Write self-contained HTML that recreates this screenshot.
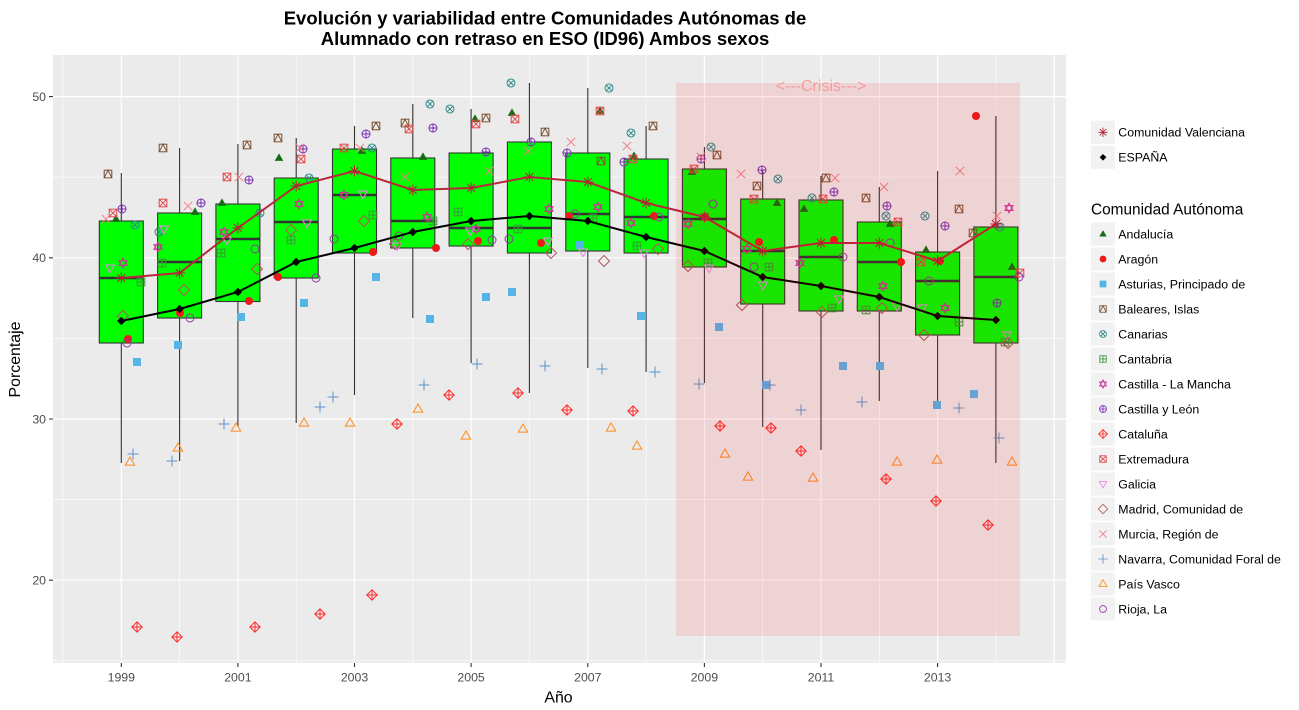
<!DOCTYPE html>
<html><head><meta charset="utf-8"><style>
html,body{margin:0;padding:0;background:#fff;}
svg{display:block;font-family:"Liberation Sans",Arial,sans-serif;}
</style></head><body>
<svg width="1299" height="710" viewBox="0 0 1299 710" xmlns="http://www.w3.org/2000/svg">
<defs>
<g id="A"><path d="M0,-4.6L4.3,2.9L-4.3,2.9Z" fill="#146C14"/></g>
<g id="R"><circle r="4" fill="#EE1A1A"/></g>
<g id="S"><rect x="-4" y="-4" width="8" height="8" fill="#56B4E9"/></g>
<g id="B" fill="none" stroke="#7A4E2E" stroke-width="1"><rect x="-3.8" y="-3.8" width="7.6" height="7.6"/><path d="M-3.8,3.8L0,-3.8L3.8,3.8"/></g>
<g id="K" fill="none" stroke="#2E8A8A" stroke-width="1"><circle r="4"/><path d="M-3.2,-3.2L3.2,3.2M-3.2,3.2L3.2,-3.2"/></g>
<g id="T" fill="none" stroke="#3C963C" stroke-width="1"><rect x="-3.8" y="-3.8" width="7.6" height="7.6"/><path d="M0,-3.8V3.8M-3.8,0H3.8"/></g>
<g id="M" fill="none" stroke="#CC3399" stroke-width="1"><path d="M0,-4.8L4.1,2.4L-4.1,2.4Z M0,4.8L4.1,-2.4L-4.1,-2.4Z"/></g>
<g id="L" fill="none" stroke="#7B2FB5" stroke-width="1"><circle r="4"/><path d="M0,-4V4M-4,0H4"/></g>
<g id="C" fill="none" stroke="#FF2A2A" stroke-width="1"><path d="M0,-5.2L5.2,0L0,5.2L-5.2,0Z M0,-5.2V5.2M-5.2,0H5.2"/></g>
<g id="E" fill="none" stroke="#E04848" stroke-width="1"><rect x="-3.8" y="-3.8" width="7.6" height="7.6"/><path d="M-3.8,-3.8L3.8,3.8M-3.8,3.8L3.8,-3.8"/></g>
<g id="G" fill="none" stroke="#EE82EE" stroke-width="1"><path d="M0,4.6L4.4,-3L-4.4,-3Z"/></g>
<g id="D" fill="none" stroke="#B05A5A" stroke-width="1"><path d="M0,-5.5L5.5,0L0,5.5L-5.5,0Z"/></g>
<g id="U" fill="none" stroke="#F47C86" stroke-width="1"><path d="M-4.2,-4.2L4.2,4.2M-4.2,4.2L4.2,-4.2"/></g>
<g id="N" fill="none" stroke="#5E92CC" stroke-width="1"><path d="M0,-5.5V5.5M-5.5,0H5.5"/></g>
<g id="P" fill="none" stroke="#FF8C1A" stroke-width="1"><path d="M0,-5L4.7,3.1L-4.7,3.1Z"/></g>
<g id="O" fill="none" stroke="#9535A5" stroke-width="1"><circle r="4"/></g>
<g id="V" fill="none" stroke="#B22234" stroke-width="1"><path d="M0,-5.5V5.5M-5.5,0H5.5M-3.9,-3.9L3.9,3.9M-3.9,3.9L3.9,-3.9"/></g>
<g id="X"><path d="M0,-4.2L4.2,0L0,4.2L-4.2,0Z" fill="#000"/></g>
</defs>

<rect x="0" y="0" width="1299" height="710" fill="#fff"/>
<!-- panel -->
<rect x="53" y="55" width="1013" height="608" fill="#EBEBEB"/>
<g stroke="#fff" stroke-width="0.6">
<line x1="53" x2="1066" y1="660.8" y2="660.8"/>
<line x1="53" x2="1066" y1="499.6" y2="499.6"/>
<line x1="53" x2="1066" y1="338.4" y2="338.4"/>
<line x1="53" x2="1066" y1="177.2" y2="177.2"/>
<line y1="55" y2="663" x1="63" x2="63"/>
<line y1="55" y2="663" x1="179.6" x2="179.6"/>
<line y1="55" y2="663" x1="296.2" x2="296.2"/>
<line y1="55" y2="663" x1="412.8" x2="412.8"/>
<line y1="55" y2="663" x1="529.4" x2="529.4"/>
<line y1="55" y2="663" x1="646.1" x2="646.1"/>
<line y1="55" y2="663" x1="762.7" x2="762.7"/>
<line y1="55" y2="663" x1="879.3" x2="879.3"/>
<line y1="55" y2="663" x1="995.9" x2="995.9"/>
</g>
<g stroke="#fff" stroke-width="1.2">
<line x1="53" x2="1066" y1="580.2" y2="580.2"/>
<line x1="53" x2="1066" y1="419" y2="419"/>
<line x1="53" x2="1066" y1="257.8" y2="257.8"/>
<line x1="53" x2="1066" y1="96.6" y2="96.6"/>
<line y1="55" y2="663" x1="121.3" x2="121.3"/>
<line y1="55" y2="663" x1="237.9" x2="237.9"/>
<line y1="55" y2="663" x1="354.5" x2="354.5"/>
<line y1="55" y2="663" x1="471.1" x2="471.1"/>
<line y1="55" y2="663" x1="587.8" x2="587.8"/>
<line y1="55" y2="663" x1="704.4" x2="704.4"/>
<line y1="55" y2="663" x1="821" x2="821"/>
<line y1="55" y2="663" x1="937.6" x2="937.6"/>
<line y1="55" y2="663" x1="1054.2" x2="1054.2"/>
</g>

<!-- whiskers -->
<g stroke="#333" stroke-width="1.1">
<path d="M121.3,173V221M121.3,343V463"/>
<path d="M179.6,148V213M179.6,318V461"/>
<path d="M237.9,144V204M237.9,301.5V427"/>
<path d="M296.2,138V178M296.2,278V423"/>
<path d="M354.5,126V149M354.5,253V395"/>
<path d="M412.8,104V158M412.8,248V318"/>
<path d="M471.1,109V153M471.1,246V363"/>
<path d="M529.4,83V142M529.4,253V393"/>
<path d="M587.8,88V153M587.8,251V368"/>
<path d="M646.1,126V159M646.1,253V372"/>
<path d="M704.4,147V169M704.4,267V383"/>
<path d="M762.7,170V199M762.7,304V427"/>
<path d="M821,176V200M821,311V450"/>
<path d="M879.3,187V222M879.3,311V401"/>
<path d="M937.6,171V252M937.6,335V402"/>
<path d="M995.9,116V227M995.9,343V463"/>
</g>
<!-- boxes -->
<g fill="#00FF00" stroke="#333" stroke-width="1.1">
<rect x="99.3" y="221" width="44" height="122"/>
<rect x="157.6" y="213" width="44" height="105"/>
<rect x="215.9" y="204" width="44" height="97.5"/>
<rect x="274.2" y="178" width="44" height="100"/>
<rect x="332.5" y="149" width="44" height="104"/>
<rect x="390.8" y="158" width="44" height="90"/>
<rect x="449.1" y="153" width="44" height="93"/>
<rect x="507.4" y="142" width="44" height="111"/>
<rect x="565.8" y="153" width="44" height="98"/>
<rect x="624.1" y="159" width="44" height="94"/>
<rect x="682.4" y="169" width="44" height="98"/>
<rect x="740.7" y="199" width="44" height="105"/>
<rect x="799" y="200" width="44" height="111"/>
<rect x="857.3" y="222" width="44" height="89"/>
<rect x="915.6" y="252" width="44" height="83"/>
<rect x="973.9" y="227" width="44" height="116"/>
</g>
<g stroke="#333" stroke-width="2.4">
<path d="M99.3,278h44M157.6,262h44M215.9,239h44M274.2,222h44M332.5,195h44M390.8,221h44M449.1,228h44M507.4,228h44M565.8,214h44M624.1,217h44M682.4,219h44M740.7,251h44M799,257h44M857.3,262h44M915.6,281h44M973.9,277h44"/>
</g>

<!-- points -->
<g>
<use href="#A" x="116" y="219"/><use href="#A" x="195" y="212"/><use href="#A" x="222" y="203"/><use href="#A" x="279" y="158"/><use href="#A" x="362" y="151"/><use href="#A" x="423" y="157"/><use href="#A" x="475" y="119"/><use href="#A" x="512" y="113"/><use href="#A" x="600" y="111"/><use href="#A" x="634" y="156"/><use href="#A" x="692" y="172"/><use href="#A" x="777" y="203"/><use href="#A" x="804" y="209"/><use href="#A" x="890" y="224"/><use href="#A" x="926" y="250"/><use href="#A" x="1012" y="267"/>
<use href="#R" x="128" y="339"/><use href="#R" x="180" y="313"/><use href="#R" x="249" y="301"/><use href="#R" x="278" y="277"/><use href="#R" x="373" y="252"/><use href="#R" x="436" y="248"/><use href="#R" x="478" y="241"/><use href="#R" x="541" y="243"/><use href="#R" x="569" y="216"/><use href="#R" x="654" y="216"/><use href="#R" x="705" y="217"/><use href="#R" x="759" y="242"/><use href="#R" x="834" y="240"/><use href="#R" x="901" y="262"/><use href="#R" x="940" y="261"/><use href="#R" x="976" y="116"/>
<use href="#S" x="137" y="362"/><use href="#S" x="178" y="345"/><use href="#S" x="241" y="317"/><use href="#S" x="304" y="303"/><use href="#S" x="376" y="277"/><use href="#S" x="430" y="319"/><use href="#S" x="486" y="297"/><use href="#S" x="512" y="292"/><use href="#S" x="580" y="245"/><use href="#S" x="641" y="316"/><use href="#S" x="719" y="327"/><use href="#S" x="766" y="385"/><use href="#S" x="843" y="366"/><use href="#S" x="880" y="366"/><use href="#S" x="937" y="405"/><use href="#S" x="974" y="394"/>
<use href="#B" x="108" y="174"/><use href="#B" x="163" y="148"/><use href="#B" x="247" y="145"/><use href="#B" x="278" y="138"/><use href="#B" x="376" y="126"/><use href="#B" x="405" y="123"/><use href="#B" x="486" y="118"/><use href="#B" x="545" y="132"/><use href="#B" x="601" y="161"/><use href="#B" x="653" y="126"/><use href="#B" x="717" y="155"/><use href="#B" x="757" y="186"/><use href="#B" x="826" y="178"/><use href="#B" x="866" y="198"/><use href="#B" x="959" y="209"/><use href="#B" x="973" y="233"/>
<use href="#K" x="135" y="225"/><use href="#K" x="159" y="232"/><use href="#K" x="260" y="213"/><use href="#K" x="309" y="178"/><use href="#K" x="372" y="148"/><use href="#K" x="430" y="104"/><use href="#K" x="450" y="109"/><use href="#K" x="511" y="83"/><use href="#K" x="609" y="88"/><use href="#K" x="631" y="133"/><use href="#K" x="711" y="147"/><use href="#K" x="778" y="179"/><use href="#K" x="812" y="198"/><use href="#K" x="886" y="216"/><use href="#K" x="925" y="216"/><use href="#K" x="1000" y="227"/>
<use href="#T" x="141" y="282"/><use href="#T" x="162" y="263"/><use href="#T" x="221" y="253"/><use href="#T" x="291" y="240"/><use href="#T" x="373" y="215"/><use href="#T" x="433" y="221"/><use href="#T" x="458" y="212"/><use href="#T" x="518" y="229"/><use href="#T" x="593" y="218"/><use href="#T" x="637" y="246"/><use href="#T" x="708" y="263"/><use href="#T" x="769" y="267"/><use href="#T" x="832" y="308"/><use href="#T" x="866" y="310"/><use href="#T" x="959" y="322"/><use href="#T" x="1005" y="342"/>
<use href="#M" x="123" y="263"/><use href="#M" x="158" y="247"/><use href="#M" x="224" y="232"/><use href="#M" x="299" y="204"/><use href="#M" x="344" y="195"/><use href="#M" x="427" y="217"/><use href="#M" x="476" y="229"/><use href="#M" x="549" y="209"/><use href="#M" x="598" y="207"/><use href="#M" x="631" y="223"/><use href="#M" x="688" y="224"/><use href="#M" x="747" y="249"/><use href="#M" x="800" y="263"/><use href="#M" x="883" y="286"/><use href="#M" x="945" y="308"/><use href="#M" x="1009" y="208"/>
<use href="#L" x="122" y="209"/><use href="#L" x="201" y="203"/><use href="#L" x="249" y="180"/><use href="#L" x="303" y="149"/><use href="#L" x="366" y="134"/><use href="#L" x="433" y="128"/><use href="#L" x="486" y="152"/><use href="#L" x="531" y="142"/><use href="#L" x="567" y="153"/><use href="#L" x="624" y="162"/><use href="#L" x="701" y="159"/><use href="#L" x="762" y="170"/><use href="#L" x="834" y="192"/><use href="#L" x="887" y="206"/><use href="#L" x="945" y="226"/><use href="#L" x="997" y="303"/>
<use href="#C" x="137" y="627"/><use href="#C" x="177" y="637"/><use href="#C" x="255" y="627"/><use href="#C" x="320" y="614"/><use href="#C" x="372" y="595"/><use href="#C" x="397" y="424"/><use href="#C" x="449" y="395"/><use href="#C" x="518" y="393"/><use href="#C" x="567" y="410"/><use href="#C" x="633" y="411"/><use href="#C" x="720" y="426"/><use href="#C" x="771" y="428"/><use href="#C" x="801" y="451"/><use href="#C" x="886" y="479"/><use href="#C" x="936" y="501"/><use href="#C" x="988" y="525"/>
<use href="#E" x="113" y="213"/><use href="#E" x="163" y="203"/><use href="#E" x="227" y="177"/><use href="#E" x="301" y="159"/><use href="#E" x="344" y="148"/><use href="#E" x="409" y="129"/><use href="#E" x="476" y="124"/><use href="#E" x="515" y="119"/><use href="#E" x="600" y="111"/><use href="#E" x="633" y="159"/><use href="#E" x="694" y="169"/><use href="#E" x="754" y="199"/><use href="#E" x="823" y="199"/><use href="#E" x="898" y="222"/><use href="#E" x="921" y="262"/><use href="#E" x="1020" y="273"/>
<use href="#G" x="110" y="268"/><use href="#G" x="164" y="229"/><use href="#G" x="227" y="240"/><use href="#G" x="307" y="223"/><use href="#G" x="363" y="194"/><use href="#G" x="397" y="246"/><use href="#G" x="470" y="231"/><use href="#G" x="548" y="241"/><use href="#G" x="583" y="252"/><use href="#G" x="644" y="253"/><use href="#G" x="709" y="268"/><use href="#G" x="763" y="285"/><use href="#G" x="839" y="299"/><use href="#G" x="897" y="306"/><use href="#G" x="922" y="308"/><use href="#G" x="1007" y="335"/>
<use href="#D" x="123" y="316"/><use href="#D" x="184" y="290"/><use href="#D" x="257" y="269"/><use href="#D" x="291" y="230"/><use href="#D" x="364" y="221"/><use href="#D" x="395" y="244"/><use href="#D" x="468" y="244"/><use href="#D" x="551" y="253"/><use href="#D" x="604" y="261"/><use href="#D" x="658" y="249"/><use href="#D" x="688" y="266"/><use href="#D" x="742" y="305"/><use href="#D" x="822" y="312"/><use href="#D" x="882" y="308"/><use href="#D" x="924" y="335"/><use href="#D" x="1008" y="343"/>
<use href="#U" x="106" y="219"/><use href="#U" x="188" y="206"/><use href="#U" x="239" y="177"/><use href="#U" x="300" y="148"/><use href="#U" x="360" y="148"/><use href="#U" x="405" y="177"/><use href="#U" x="489" y="171"/><use href="#U" x="528" y="151"/><use href="#U" x="571" y="142"/><use href="#U" x="627" y="146"/><use href="#U" x="701" y="157"/><use href="#U" x="741" y="174"/><use href="#U" x="835" y="178"/><use href="#U" x="884" y="187"/><use href="#U" x="960" y="171"/><use href="#U" x="997" y="216"/>
<use href="#N" x="133" y="454"/><use href="#N" x="172" y="461"/><use href="#N" x="224" y="424"/><use href="#N" x="320" y="407"/><use href="#N" x="333" y="397"/><use href="#N" x="424" y="385"/><use href="#N" x="477" y="364"/><use href="#N" x="545" y="366"/><use href="#N" x="602" y="369"/><use href="#N" x="655" y="372"/><use href="#N" x="699" y="384"/><use href="#N" x="770" y="385"/><use href="#N" x="801" y="410"/><use href="#N" x="862" y="402"/><use href="#N" x="959" y="408"/><use href="#N" x="999" y="438"/>
<use href="#P" x="130" y="462"/><use href="#P" x="178" y="448"/><use href="#P" x="236" y="428"/><use href="#P" x="304" y="423"/><use href="#P" x="350" y="423"/><use href="#P" x="418" y="409"/><use href="#P" x="466" y="436"/><use href="#P" x="523" y="429"/><use href="#P" x="611" y="428"/><use href="#P" x="637" y="446"/><use href="#P" x="725" y="454"/><use href="#P" x="748" y="477"/><use href="#P" x="813" y="478"/><use href="#P" x="897" y="462"/><use href="#P" x="937" y="460"/><use href="#P" x="1012" y="462"/>
<use href="#O" x="127" y="343"/><use href="#O" x="190" y="318"/><use href="#O" x="255" y="249"/><use href="#O" x="316" y="278"/><use href="#O" x="334" y="239"/><use href="#O" x="399" y="236"/><use href="#O" x="492" y="240"/><use href="#O" x="509" y="239"/><use href="#O" x="575" y="214"/><use href="#O" x="659" y="217"/><use href="#O" x="713" y="204"/><use href="#O" x="754" y="267"/><use href="#O" x="843" y="257"/><use href="#O" x="890" y="243"/><use href="#O" x="929" y="281"/><use href="#O" x="1019" y="277"/>
</g>

<!-- Valenciana line -->
<polyline fill="none" stroke="#B8283C" stroke-width="2" points="121.3,278 179.6,273 237.9,228 296.2,186 354.5,171 412.8,190 471.1,188 529.4,177 587.8,182 646.1,203 704.4,217 762.7,251 821,243 879.3,243 937.6,261 995.9,224"/>
<g>
<use href="#V" x="121.3" y="278"/><use href="#V" x="179.6" y="273"/><use href="#V" x="237.9" y="228"/><use href="#V" x="296.2" y="186"/><use href="#V" x="354.5" y="171"/><use href="#V" x="412.8" y="190"/><use href="#V" x="471.1" y="188"/><use href="#V" x="529.4" y="177"/><use href="#V" x="587.8" y="182"/><use href="#V" x="646.1" y="203"/><use href="#V" x="704.4" y="217"/><use href="#V" x="762.7" y="251"/><use href="#V" x="821" y="243"/><use href="#V" x="879.3" y="243"/><use href="#V" x="937.6" y="261"/><use href="#V" x="995.9" y="224"/>
</g>
<!-- Espana line -->
<polyline fill="none" stroke="#000" stroke-width="2" points="121.3,321 179.6,309 237.9,292 296.2,262 354.5,248 412.8,232 471.1,221 529.4,216 587.8,221 646.1,237 704.4,251 762.7,277 821,286 879.3,297 937.6,316 995.9,320"/>
<g>
<use href="#X" x="121.3" y="321"/><use href="#X" x="179.6" y="309"/><use href="#X" x="237.9" y="292"/><use href="#X" x="296.2" y="262"/><use href="#X" x="354.5" y="248"/><use href="#X" x="412.8" y="232"/><use href="#X" x="471.1" y="221"/><use href="#X" x="529.4" y="216"/><use href="#X" x="587.8" y="221"/><use href="#X" x="646.1" y="237"/><use href="#X" x="704.4" y="251"/><use href="#X" x="762.7" y="277"/><use href="#X" x="821" y="286"/><use href="#X" x="879.3" y="297"/><use href="#X" x="937.6" y="316"/><use href="#X" x="995.9" y="320"/>
</g>

<!-- crisis -->
<rect x="676" y="83" width="344" height="553" fill="#FF0000" fill-opacity="0.1"/>
<text x="821" y="91" font-size="16" fill="#F49C9C" text-anchor="middle">&lt;---Crisis---&gt;</text>

<!-- axes ticks -->
<g stroke="#333" stroke-width="1.1">
<path d="M49,580.2H53M49,419H53M49,257.8H53M49,96.6H53"/>
<path d="M121.3,663V667M237.9,663V667M354.5,663V667M471.1,663V667M587.8,663V667M704.4,663V667M821,663V667M937.6,663V667"/>
</g>
<g font-size="12.3" fill="#4D4D4D">
<text x="46" y="584.5" text-anchor="end">20</text>
<text x="46" y="423.3" text-anchor="end">30</text>
<text x="46" y="262.1" text-anchor="end">40</text>
<text x="46" y="100.9" text-anchor="end">50</text>
<g text-anchor="middle">
<text x="121.3" y="681.7">1999</text>
<text x="237.9" y="681.7">2001</text>
<text x="354.5" y="681.7">2003</text>
<text x="471.1" y="681.7">2005</text>
<text x="587.8" y="681.7">2007</text>
<text x="704.4" y="681.7">2009</text>
<text x="821" y="681.7">2011</text>
<text x="937.6" y="681.7">2013</text>
</g>
</g>
<text x="558.5" y="702.3" font-size="15.9" text-anchor="middle" fill="#000">Año</text>
<text transform="translate(20,359.5) rotate(-90)" font-size="15.9" text-anchor="middle" fill="#000">Porcentaje</text>

<!-- title -->
<g font-size="18.5" font-weight="bold" text-anchor="middle" fill="#000">
<text x="545" y="24.3">Evolución y variabilidad entre Comunidades Autónomas de</text>
<text x="545" y="45.2">Alumnado con retraso en ESO (ID96) Ambos sexos</text>
</g>

<!-- legend -->
<g fill="#F2F2F2">
<rect x="1091" y="120.8" width="24" height="23"/>
<rect x="1091" y="145.8" width="24" height="23"/>
<rect x="1091" y="222.5" width="24" height="23"/>
<rect x="1091" y="247.5" width="24" height="23"/>
<rect x="1091" y="272.5" width="24" height="23"/>
<rect x="1091" y="297.5" width="24" height="23"/>
<rect x="1091" y="322.5" width="24" height="23"/>
<rect x="1091" y="347.5" width="24" height="23"/>
<rect x="1091" y="372.5" width="24" height="23"/>
<rect x="1091" y="397.5" width="24" height="23"/>
<rect x="1091" y="422.5" width="24" height="23"/>
<rect x="1091" y="447.5" width="24" height="23"/>
<rect x="1091" y="472.5" width="24" height="23"/>
<rect x="1091" y="497.5" width="24" height="23"/>
<rect x="1091" y="522.5" width="24" height="23"/>
<rect x="1091" y="547.5" width="24" height="23"/>
<rect x="1091" y="572.5" width="24" height="23"/>
<rect x="1091" y="597.5" width="24" height="23"/>
</g>
<g>
<use href="#V" transform="translate(1103,132.3) scale(0.85)"/>
<use href="#X" transform="translate(1103,157.3) scale(0.8)"/>
<use href="#A" transform="translate(1103,234) scale(0.85)"/>
<use href="#R" transform="translate(1103,259) scale(0.85)"/>
<use href="#S" transform="translate(1103,284) scale(0.85)"/>
<use href="#B" transform="translate(1103,309) scale(0.85)"/>
<use href="#K" transform="translate(1103,334) scale(0.85)"/>
<use href="#T" transform="translate(1103,359) scale(0.85)"/>
<use href="#M" transform="translate(1103,384) scale(0.85)"/>
<use href="#L" transform="translate(1103,409) scale(0.85)"/>
<use href="#C" transform="translate(1103,434) scale(0.85)"/>
<use href="#E" transform="translate(1103,459) scale(0.85)"/>
<use href="#G" transform="translate(1103,484) scale(0.85)"/>
<use href="#D" transform="translate(1103,509) scale(0.85)"/>
<use href="#U" transform="translate(1103,534) scale(0.85)"/>
<use href="#N" transform="translate(1103,559) scale(0.85)"/>
<use href="#P" transform="translate(1103,584) scale(0.85)"/>
<use href="#O" transform="translate(1103,609) scale(0.85)"/>
</g>
<g font-size="12.35" fill="#000">
<text x="1118.3" y="136.7">Comunidad Valenciana</text>
<text x="1118.3" y="161.7">ESPAÑA</text>
<text x="1091" y="214.5" font-size="15.4">Comunidad Autónoma</text>
<text x="1118.3" y="238.4">Andalucía</text>
<text x="1118.3" y="263.4">Aragón</text>
<text x="1118.3" y="288.4">Asturias, Principado de</text>
<text x="1118.3" y="313.4">Baleares, Islas</text>
<text x="1118.3" y="338.4">Canarias</text>
<text x="1118.3" y="363.4">Cantabria</text>
<text x="1118.3" y="388.4">Castilla - La Mancha</text>
<text x="1118.3" y="413.4">Castilla y León</text>
<text x="1118.3" y="438.4">Cataluña</text>
<text x="1118.3" y="463.4">Extremadura</text>
<text x="1118.3" y="488.4">Galicia</text>
<text x="1118.3" y="513.4">Madrid, Comunidad de</text>
<text x="1118.3" y="538.4">Murcia, Región de</text>
<text x="1118.3" y="563.4">Navarra, Comunidad Foral de</text>
<text x="1118.3" y="588.4">País Vasco</text>
<text x="1118.3" y="613.4">Rioja, La</text>
</g>
</svg>
</body></html>
